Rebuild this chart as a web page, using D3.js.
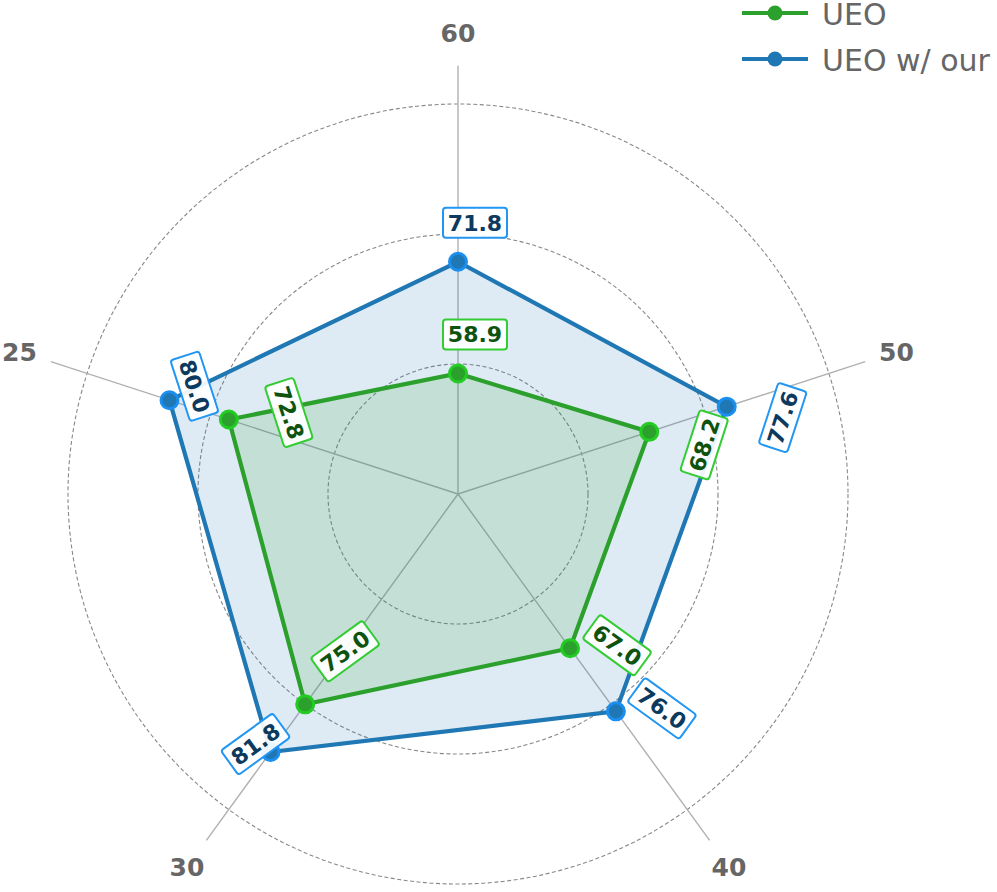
<!DOCTYPE html>
<html>
<head>
<meta charset="utf-8">
<script src="https://cdn.jsdelivr.net/npm/d3@7"></script>
<style>
  body { margin: 0; background: #fff; }
  svg { display: block; font-family: "DejaVu Sans", sans-serif; }
</style>
</head>
<body>
<div id="chart"></div>
<script>
// data
var axesLabels = ["60", "50", "40", "30", "25"];
var ueo = [58.9, 68.2, 67.0, 75.0, 72.8];
var ueoOurs = [71.8, 77.6, 76.0, 81.8, 80.0];
var gridValues = [60, 75, 90];
var seriesNames = ["UEO", "UEO w/ our"];

// label nudges (px), hand placed like the original
var nudgeUeo = [[17, -39], [55, 13], [47, -3], [40, -53], [60, -7]];
var nudgeOurs = [[17, -39], [56, 11], [46, -3], [-15, -8], [25, -14]];

var width = 997, height = 892,
    cx = 458, cy = 494;

var svg = d3.select("#chart").append("svg")
    .attr("width", width)
    .attr("height", height);

var g = svg.append("g")
    .attr("transform", "translate(" + cx + "," + cy + ")");

var r = d3.scaleLinear().domain([45, 90]).range([0, 390]);
var angle = d3.scaleLinear().domain([0, axesLabels.length]).range([0, 2 * Math.PI]);

function px(i, v) { return r(v) * Math.sin(angle(i)); }
function py(i, v) { return -r(v) * Math.cos(angle(i)); }

// grid circles
g.selectAll("circle.grid")
    .data(gridValues)
    .enter().append("circle")
    .attr("class", "grid")
    .attr("r", function (d) { return r(d); })
    .attr("fill", "none")
    .attr("stroke", "#888")
    .attr("stroke-width", 1.1)
    .attr("stroke-dasharray", "4,2.5");

// spokes
g.selectAll("line.spoke")
    .data(axesLabels)
    .enter().append("line")
    .attr("class", "spoke")
    .attr("x1", 0).attr("y1", 0)
    .attr("x2", function (d, i) { return px(i, 94.4); })
    .attr("y2", function (d, i) { return py(i, 94.4); })
    .attr("stroke", "#b0b0b0")
    .attr("stroke-width", 1.4);

// axis labels
g.selectAll("text.axlab")
    .data(axesLabels)
    .enter().append("text")
    .attr("class", "axlab")
    .attr("x", function (d, i) { return px(i, 98.2); })
    .attr("y", function (d, i) { return py(i, 98.2); })
    .attr("dy", "0.36em")
    .attr("text-anchor", "middle")
    .style("font-size", "25px")
    .style("font-weight", "bold")
    .style("fill", "#666")
    .text(function (d) { return d; });

var radial = d3.lineRadial()
    .angle(function (d, i) { return angle(i); })
    .radius(function (d) { return r(d); })
    .curve(d3.curveLinearClosed);

var series = [
    { name: "UEO w/ our", values: ueoOurs, color: "#1f77b4", edge: "#1a8fef", box: "#2196f3", text: "#0b3a5e", nudge: nudgeOurs },
    { name: "UEO", values: ueo, color: "#2ca02c", edge: "#22cc22", box: "#33cc33", text: "#0d520d", nudge: nudgeUeo }
];

series.forEach(function (s) {
    g.append("path")
        .datum(s.values)
        .attr("d", radial)
        .attr("fill", s.color)
        .attr("fill-opacity", 0.15)
        .attr("stroke", "none");
});

series.forEach(function (s) {
    g.append("path")
        .datum(s.values)
        .attr("d", radial)
        .attr("fill", "none")
        .attr("stroke", s.color)
        .attr("stroke-width", 4.2)
        .attr("stroke-linejoin", "miter");
});

series.forEach(function (s) {
    g.selectAll("circle.pt-" + s.color.slice(1))
        .data(s.values)
        .enter().append("circle")
        .attr("cx", function (d, i) { return px(i, d); })
        .attr("cy", function (d, i) { return py(i, d); })
        .attr("r", 8.5)
        .attr("fill", s.color)
        .attr("stroke", s.edge)
        .attr("stroke-width", 3);
});

// value labels
series.forEach(function (s) {
    var lab = g.selectAll("g.lab-" + s.color.slice(1))
        .data(s.values)
        .enter().append("g")
        .attr("transform", function (d, i) {
            var deg = -angle(i) * 180 / Math.PI;
            while (deg <= -90) deg += 180;
            while (deg > 90) deg -= 180;
            var x = px(i, d) + s.nudge[i][0], y = py(i, d) + s.nudge[i][1];
            return "translate(" + x + "," + y + ") rotate(" + deg + ")";
        });

    lab.append("rect")
        .attr("x", -32).attr("y", -15)
        .attr("width", 64).attr("height", 30)
        .attr("rx", 3)
        .attr("fill", "#fff")
        .attr("fill-opacity", 0.92)
        .attr("stroke", s.box)
        .attr("stroke-width", 2);

    lab.append("text")
        .attr("text-anchor", "middle")
        .attr("dy", "0.36em")
        .style("font-size", "22px")
        .style("font-weight", "bold")
        .style("fill", s.text)
        .text(function (d) { return d.toFixed(1); });
});

// legend
var legendData = [
    { name: seriesNames[0], color: "#2ca02c" },
    { name: seriesNames[1], color: "#1f77b4" }
];
var legend = svg.selectAll("g.legend")
    .data(legendData)
    .enter().append("g")
    .attr("class", "legend")
    .attr("transform", function (d, i) { return "translate(742," + (13 + i * 46) + ")"; });

legend.append("line")
    .attr("x1", 0).attr("x2", 66)
    .attr("y1", 0).attr("y2", 0)
    .attr("stroke", function (d) { return d.color; })
    .attr("stroke-width", 4);

legend.append("circle")
    .attr("cx", 33).attr("cy", 0).attr("r", 7.5)
    .attr("fill", function (d) { return d.color; });

legend.append("text")
    .attr("x", 80)
    .attr("y", 12)
    .style("font-size", "30px")
    .style("fill", "#666")
    .text(function (d) { return d.name; });
</script>
</body>
</html>
